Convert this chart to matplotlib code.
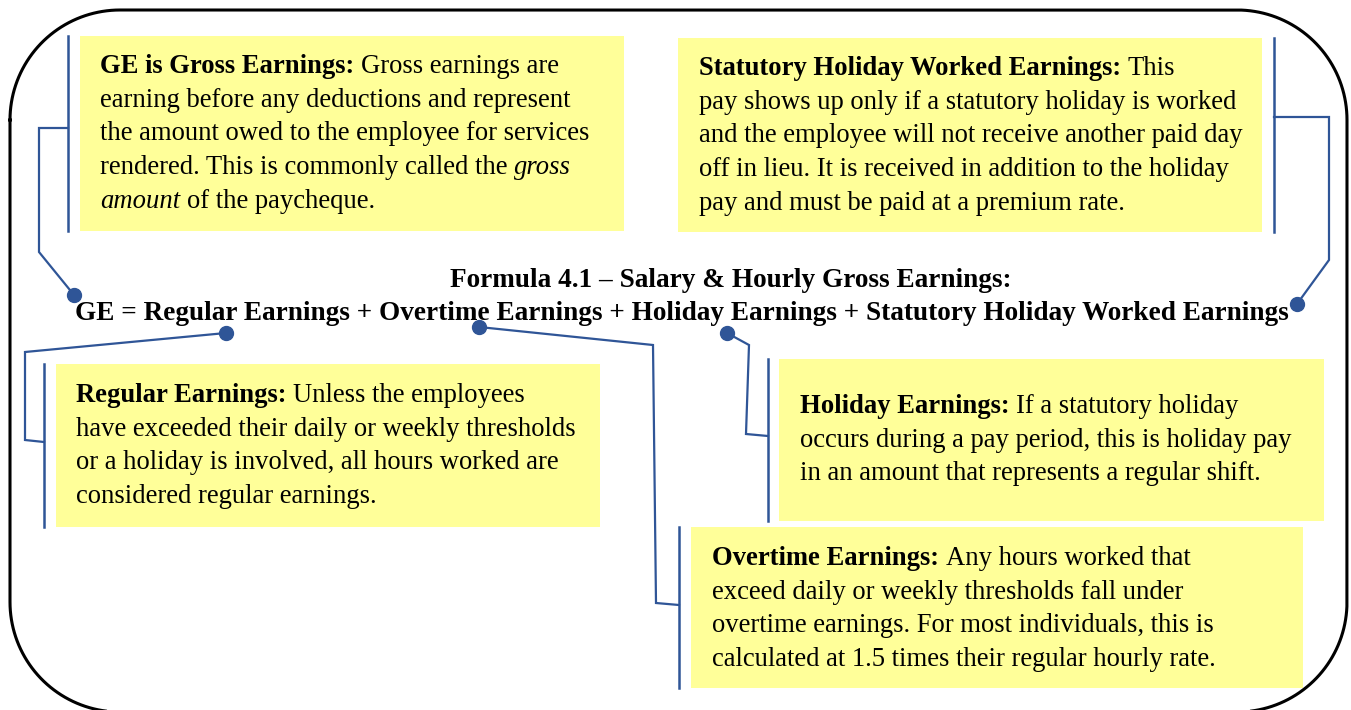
import numpy as np
import matplotlib.pyplot as plt
from matplotlib.patches import Rectangle

FONT = ['Liberation Serif', 'DejaVu Serif']
SIZE = 19.2
HEAD_SIZE = 19.6
BLUE = '#2f5597'
YELLOW = '#ffff99'

# texts ('b' bold, 'n' normal, 'i' italic)
title = "Formula 4.1 \u2013 Salary & Hourly Gross Earnings:"
formula = ("GE = Regular Earnings + Overtime Earnings + Holiday Earnings"
           " + Statutory Holiday Worked Earnings")

ge_lines = [
    [("GE is Gross Earnings:", 'b'), ("Gross earnings are", 'n')],
    [("earning before any deductions and represent", 'n')],
    [("the amount owed to the employee for services", 'n')],
    [("rendered. This is commonly called the", 'n'), ("gross", 'i')],
    [("amount", 'i'), ("of the paycheque.", 'n')],
]
stat_lines = [
    [("Statutory Holiday Worked Earnings:", 'b'), ("This", 'n')],
    [("pay shows up only if a statutory holiday is worked", 'n')],
    [("and the employee will not receive another paid day", 'n')],
    [("off in lieu. It is received in addition to the holiday", 'n')],
    [("pay and must be paid at a premium rate.", 'n')],
]
reg_lines = [
    [("Regular Earnings:", 'b'), ("Unless the employees", 'n')],
    [("have exceeded their daily or weekly thresholds", 'n')],
    [("or a holiday is involved, all hours worked are", 'n')],
    [("considered regular earnings.", 'n')],
]
hol_lines = [
    [("Holiday Earnings:", 'b'), ("If a statutory holiday", 'n')],
    [("occurs during a pay period, this is holiday pay", 'n')],
    [("in an amount that represents a regular shift.", 'n')],
]
ot_lines = [
    [("Overtime Earnings:", 'b'), ("Any hours worked that", 'n')],
    [("exceed daily or weekly thresholds fall under", 'n')],
    [("overtime earnings. For most individuals, this is", 'n')],
    [("calculated at 1.5 times their regular hourly rate.", 'n')],
]

# box: (lines, yellow x0, x1, y0, y1, bar x, text x, first baseline)
boxes = [
    (ge_lines, 80, 624, 36, 231, 68, 100, 73),
    (stat_lines, 678, 1262, 38, 232, 1274, 699, 75),
    (reg_lines, 56, 600, 364, 527, 44, 76, 402),
    (hol_lines, 779, 1324, 359, 521, 768, 800, 413),
    (ot_lines, 691, 1303, 527, 688, 679, 712, 565),
]
# connectors from bar to dot on the formula
connectors = [
    ([68, 39, 39, 74], [128, 128, 252, 295]),
    ([1274, 1329, 1329, 1297], [117, 117, 260, 304]),
    ([44, 25, 25, 226], [442, 440, 352, 333]),
    ([768, 746, 749, 727], [436, 434, 345, 333]),
    ([679, 656, 653, 479], [605, 603, 345, 327]),
]
LINE_GAP = 33.7

STYLES = {'b': dict(fontweight='bold'), 'n': {}, 'i': dict(fontstyle='italic')}

fig = plt.figure(figsize=(13.51, 7.10), dpi=100)
ax = fig.add_axes([0, 0, 1, 1])
ax.set_xlim(0, 1351)
ax.set_ylim(710, 0)
ax.axis('off')
r = fig.canvas.get_renderer()


def width(s, **kw):
    t = ax.text(0, 0, s, fontsize=SIZE, family=FONT, **kw)
    w = t.get_window_extent(r).width
    t.remove()
    return w


def draw_rich(x, y, segs):
    for k, (s, st) in enumerate(segs):
        kw = STYLES[st]
        if k > 0:
            x += width('x x', **kw) - width('xx', **kw)
        t = ax.text(x, y, s, fontsize=SIZE, family=FONT, va='baseline',
                    ha='left', color='black', **kw)
        x += t.get_window_extent(r).width


# outer rounded frame
fx0, fx1, fy0, fy1, rad = 10, 1347, 10, 712, 110
fxs, fys = [], []
for cx, cy, a0 in [(fx0 + rad, fy0 + rad, 180), (fx1 - rad, fy0 + rad, 270),
                   (fx1 - rad, fy1 - rad, 0), (fx0 + rad, fy1 - rad, 90)]:
    a = np.radians(np.linspace(a0, a0 + 90, 40))
    fxs.extend(cx + rad * np.cos(a))
    fys.extend(cy + rad * np.sin(a))
fxs.append(fxs[0])
fys.append(fys[0])
ax.plot(fxs, fys, color='black', lw=2.2, clip_on=False)

for lines, x0, x1, y0, y1, bx, tx, by in boxes:
    ax.add_patch(Rectangle((x0, y0), x1 - x0, y1 - y0, color=YELLOW, lw=0))
    ax.plot([bx, bx], [y0, y1], color=BLUE, lw=1.8)
    for i, segs in enumerate(lines):
        draw_rich(tx, by + i * LINE_GAP, segs)

for xs, ys in connectors:
    ax.plot(xs, ys, color=BLUE, lw=1.6, solid_joinstyle='miter')
    ax.plot(xs[-1], ys[-1], 'o', color=BLUE, ms=10)

ax.text(731, 287, title, fontsize=HEAD_SIZE, family=FONT, fontweight='bold',
        ha='center', va='baseline')
ax.text(682, 320, formula, fontsize=HEAD_SIZE, family=FONT, fontweight='bold',
        ha='center', va='baseline')

fig.savefig('out.png', dpi=100)
